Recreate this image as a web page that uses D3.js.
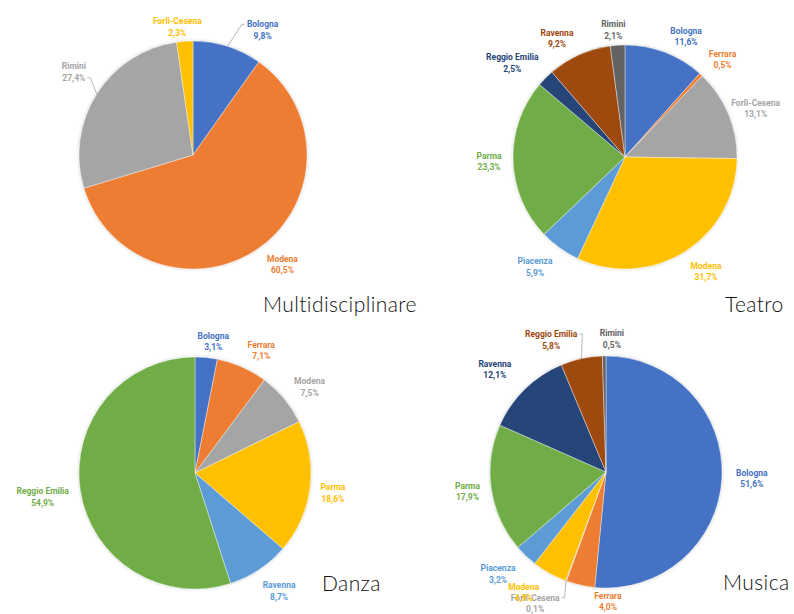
<!DOCTYPE html>
<html>
<head>
<meta charset="utf-8">
<script src="https://cdn.jsdelivr.net/npm/d3@7"></script>
<style>
  body { margin: 0; background: #fff; }
  svg { display: block; }
  .slice-label { font-family: Roboto, "Liberation Sans", sans-serif; font-size: 8.5px; font-weight: 700; }
  .chart-title { font-family: "Lato", "Open Sans", sans-serif; font-size: 21px; font-weight: 300; letter-spacing: 0.4px; fill: #111; }
</style>
</head>
<body>
<div id="chart"></div>
<script>
// Excel default palette, applied in slice order
const PALETTE = ['#4472C4', '#ED7D31', '#A5A5A5', '#FFC000', '#5B9BD5', '#70AD47', '#264478', '#9E480E', '#636363'];

// Data (percentages)
const multiCities = ['Bologna', 'Modena', 'Rimini', 'Forlì-Cesena'];
const multiValues = [9.8, 60.5, 27.4, 2.3];

const teatroCities = ['Bologna', 'Ferrara', 'Forlì-Cesena', 'Modena', 'Piacenza', 'Parma', 'Reggio Emilia', 'Ravenna', 'Rimini'];
const teatroValues = [11.6, 0.5, 13.1, 31.7, 5.9, 23.3, 2.5, 9.2, 2.1];

const danzaCities = ['Bologna', 'Ferrara', 'Modena', 'Parma', 'Ravenna', 'Reggio Emilia'];
const danzaValues = [3.1, 7.1, 7.5, 18.6, 8.7, 54.9];

const musicaCities = ['Bologna', 'Ferrara', 'Forlì-Cesena', 'Modena', 'Piacenza', 'Parma', 'Ravenna', 'Reggio Emilia', 'Rimini'];
const musicaValues = [51.6, 4.0, 0.1, 4.9, 3.2, 17.9, 12.1, 5.8, 0.5];

// Layout: pie centre / radius, title position, label nudges (relative to outer centroid) and leader lines
const charts = [
    { title: 'Multidisciplinare', cities: multiCities, values: multiValues,
      cx: 193, cy: 155, r: 114, tx: 263, ty: 312,
      nudges: [[29, -3], [11, -5], [-6, -17], [-6, 0]],
      leaders: { 'Bologna': 'name', 'Rimini': 'value' } },
    { title: 'Teatro', cities: teatroCities, values: teatroValues,
      cx: 625, cy: 157, r: 112, tx: 725, ty: 312,
      nudges: [[14, -3], [8, -6], [9, -3], [11, -3], [-13, -3], [-4, -5], [-19, -7], [-14, -4], [-3, -1]],
      leaders: {} },
    { title: 'Danza', cities: danzaCities, values: danzaValues,
      cx: 195, cy: 473, r: 116, tx: 322, ty: 591,
      nudges: [[5, -2], [11, -4], [10, -5], [3, -3], [9, -1], [-18, -3]],
      leaders: {} },
    { title: 'Musica', cities: musicaCities, values: musicaValues,
      cx: 606, cy: 472, r: 116, tx: 723, ty: 590,
      nudges: [[10, -6], [32, -9], [-24, -2], [-16, -4], [-14, -2], [-4, -6], [-16, -11], [-26, -5], [8, -3]],
      leaders: { 'Forlì-Cesena': 'name', 'Reggio Emilia': 'name' } }
];

const itLocale = d3.formatLocale({ decimal: ',', thousands: '.', grouping: [3], currency: ['', '€'] });
const fmt = itLocale.format('.1f');

const WIDTH = 794, HEIGHT = 614;
const LABEL_OFFSET = 20;

const svg = d3.select('#chart').append('svg')
    .attr('width', WIDTH)
    .attr('height', HEIGHT);

// Soft shadow like the Excel pie style
const defs = svg.append('defs');
const shadow = defs.append('filter').attr('id', 'soft').attr('x', '-10%').attr('y', '-10%').attr('width', '120%').attr('height', '120%');
shadow.append('feGaussianBlur').attr('in', 'SourceAlpha').attr('stdDeviation', 1.5).attr('result', 'blur');
shadow.append('feComponentTransfer').attr('in', 'blur').attr('result', 'shade')
    .append('feFuncA').attr('type', 'linear').attr('slope', 0.25);
const merge = shadow.append('feMerge');
merge.append('feMergeNode').attr('in', 'shade');
merge.append('feMergeNode').attr('in', 'SourceGraphic');

charts.forEach(drawPie);

function drawPie(cfg) {
    const data = cfg.cities.map((name, i) => ({ name, value: cfg.values[i] }));
    const color = d3.scaleOrdinal().domain(cfg.cities).range(PALETTE);

    const pie = d3.pie().sort(null).value(d => d.value);
    const arcs = pie(data);
    const arc = d3.arc().innerRadius(0).outerRadius(cfg.r);
    const outer = d3.arc().innerRadius(cfg.r + LABEL_OFFSET).outerRadius(cfg.r + LABEL_OFFSET);
    const rim = d3.arc().innerRadius(cfg.r).outerRadius(cfg.r);

    const g = svg.append('g').attr('transform', `translate(${cfg.cx},${cfg.cy})`);

    g.append('g')
        .attr('filter', 'url(#soft)')
        .selectAll('path')
        .data(arcs)
        .enter().append('path')
        .attr('d', arc)
        .attr('fill', d => color(d.data.name))
        .attr('stroke', '#fff')
        .attr('stroke-width', 0.4);

    const labels = g.append('g')
        .selectAll('g')
        .data(arcs)
        .enter().append('g')
        .attr('class', 'slice-label')
        .attr('transform', (d, i) => {
            const c = outer.centroid(d);
            const n = cfg.nudges[i] || [0, 0];
            d.lx = c[0] + n[0];
            d.ly = c[1] + n[1];
            return `translate(${d.lx},${d.ly})`;
        })
        .style('fill', d => color(d.data.name));

    labels.append('text')
        .attr('class', 'lbl-name')
        .attr('text-anchor', 'middle')
        .attr('y', 3)
        .text(d => d.data.name);

    labels.append('text')
        .attr('class', 'lbl-value')
        .attr('text-anchor', 'middle')
        .attr('y', 14.5)
        .text(d => fmt(d.data.value) + '%');

    // Leader lines for labels placed away from their slice
    labels.each(function(d) {
        const which = cfg.leaders[d.data.name];
        if (!which) return;
        const node = d3.select(this).select(which === 'name' ? '.lbl-name' : '.lbl-value').node();
        const w = node.getComputedTextLength();
        const start = rim.centroid(d);
        const side = d.lx < start[0] ? 1 : -1;
        const ex = d.lx + side * (w / 2 + 2);
        const ey = d.ly + (which === 'name' ? 0 : 11.5);
        g.append('path')
            .attr('d', `M${start[0]},${start[1]}L${ex + side * 3},${ey}L${ex},${ey}`)
            .attr('fill', 'none')
            .attr('stroke', '#A6A6A6')
            .attr('stroke-width', 0.8);
    });

    svg.append('text')
        .attr('class', 'chart-title')
        .attr('x', cfg.tx)
        .attr('y', cfg.ty)
        .text(cfg.title);
}
</script>
</body>
</html>
